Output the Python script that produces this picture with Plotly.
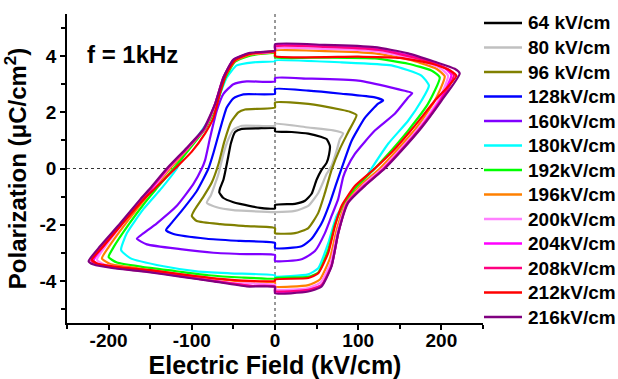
import plotly.graph_objects as go

# ---------------- data ----------------
FIELDS = ["64 kV/cm", "80 kV/cm", "96 kV/cm", "128kV/cm", "160kV/cm", "180kV/cm",
          "192kV/cm", "196kV/cm", "200kV/cm", "204kV/cm", "208kV/cm", "212kV/cm", "216kV/cm"]
COLORS = ["#000000", "#C0C0C0", "#808000", "#0000FF", "#8000FF", "#00FFFF",
          "#00FF00", "#FF8000", "#FF80FF", "#FF00FF", "#FF0080", "#FF0000", "#800080"]

# upper branch: from +Emax tip going to -Emax tip; lower branch: -Emax tip back to +Emax tip
UP_64 = [(66, 0.8), (62, 1.05), (56, 1.12), (40, 1.24), (20, 1.3), (0, 1.33), (0, 1.43), (-20, 1.43),
         (-40, 1.41), (-48, 1.3), (-53, 0.9), (-57, 0.3), (-62, -0.4), (-66, -0.7), (-67, -0.85)]
DN_64 = [(-67, -0.85), (-62, -1.05), (-50, -1.2), (-42, -1.26), (-18, -1.4), (0, -1.42), (0, -1.3),
         (24, -1.26), (36, -1.15), (44, -0.9), (50, -0.4), (56, -0.05), (62, 0.2), (65, 0.5), (66, 0.8)]

UP_80 = [(82, 1.25), (70, 1.36), (40, 1.46), (0, 1.59), (0, 1.52), (-40, 1.52), (-50, 1.38), (-56, 1.05),
         (-62, 0.52), (-68, -0.2), (-72, -0.55), (-77, -0.95), (-82, -1.22)]
DN_80 = [(-82, -1.22), (-70, -1.38), (-50, -1.48), (-34, -1.51), (0, -1.55), (24, -1.51), (40, -1.33),
         (52, -0.87), (62, -0.2), (68, 0.1), (74, 0.63), (78, 1.05), (82, 1.25)]

UP_96 = [(98, 1.9), (90, 2.02), (80, 2.09), (40, 2.3), (0, 2.35), (0, 2.17), (-36, 2.1), (-44, 2.0),
         (-53, 1.65), (-61, 0.95), (-68, 0.15), (-76, -0.5), (-86, -1.0), (-96, -1.44), (-100, -1.69)]
DN_96 = [(-100, -1.69), (-94, -1.87), (-66, -1.98), (-34, -2.05), (0, -2.12), (0, -2.3), (24, -2.3),
         (40, -2.12), (52, -1.58), (60, -0.87), (68, -0.05), (78, 0.7), (88, 1.3), (98, 1.9)]

UP_128 = [(130, 2.42), (120, 2.53), (80, 2.66), (40, 2.77), (0, 2.83), (0, 2.66), (-38, 2.64), (-50, 2.5),
          (-58, 2.17), (-66, 1.4), (-74, 0.55), (-80, 0.0), (-94, -0.8), (-112, -1.5), (-126, -2.0), (-131, -2.2)]
DN_128 = [(-131, -2.2), (-122, -2.33), (-82, -2.5), (-42, -2.58), (0, -2.65), (0, -2.83), (32, -2.77),
          (44, -2.5), (56, -1.95), (66, -1.22), (74, -0.51), (80, 0.0), (92, 0.98), (108, 1.8), (124, 2.31), (130, 2.42)]

UP_160 = [(165, 2.68), (140, 2.88), (100, 3.13), (40, 3.2), (0, 3.22), (0, 3.1), (-34, 3.1), (-50, 3.0),
          (-62, 2.66), (-70, 2.06), (-78, 1.1), (-84, 0.3), (-88, 0.0), (-98, -0.55), (-118, -1.33),
          (-142, -1.95), (-160, -2.35), (-166, -2.5)]
DN_160 = [(-166, -2.5), (-154, -2.7), (-114, -2.87), (-74, -3.0), (-34, -3.05), (0, -3.08), (0, -3.29),
          (32, -3.23), (48, -2.94), (60, -2.3), (68, -1.69), (76, -1.08), (82, -0.3), (86, 0.0), (96, 0.52),
          (120, 1.35), (144, 1.95), (160, 2.53), (165, 2.68)]

UP_180 = [(185, 2.95), (176, 3.31), (140, 3.67), (80, 3.78), (0, 3.85), (0, 3.82), (-26, 3.78), (-46, 3.67),
          (-58, 3.24), (-66, 2.66), (-78, 1.8), (-94, 1.1), (-110, 0.45), (-118, 0.0), (-136, -0.69),
          (-158, -1.44), (-178, -2.3), (-185, -2.9)]
DN_180 = [(-185, -2.9), (-174, -3.19), (-134, -3.48), (-94, -3.66), (-54, -3.73), (0, -3.8), (0, -3.84),
          (40, -3.77), (52, -3.55), (64, -2.66), (74, -1.69), (84, -1.26), (100, -0.73), (116, 0.0),
          (136, 0.88), (160, 1.7), (176, 2.41), (185, 2.95)]

UP_192 = [(198, 3.24), (188, 3.49), (160, 3.73), (120, 3.92), (60, 3.95), (0, 3.96), (0, 4.1), (-30, 4.02),
          (-48, 3.8), (-60, 3.2), (-70, 2.3), (-82, 1.5), (-100, 0.8), (-122, 0.0), (-142, -0.7),
          (-156, -1.2), (-176, -2.0), (-194, -2.8), (-200, -3.15)]
DN_192 = [(-200, -3.15), (-190, -3.35), (-160, -3.5), (-120, -3.65), (-80, -3.8), (-40, -3.88), (0, -3.92),
          (0, -3.9), (40, -3.86), (52, -3.7), (64, -2.9), (72, -2.0), (82, -1.3), (98, -0.65), (120, 0.0),
          (132, 0.38), (160, 1.35), (184, 2.31), (198, 3.24)]

UP_196 = [(204, 3.28), (194, 3.55), (165, 3.85), (120, 4.1), (60, 4.18), (0, 4.2), (0, 4.15), (-30, 4.05),
          (-48, 3.83), (-61, 3.22), (-71, 2.3), (-84, 1.45), (-103, 0.76), (-126, 0.0), (-146, -0.7),
          (-158, -1.15), (-180, -1.98), (-200, -2.8), (-208, -3.2)]
DN_196 = [(-208, -3.2), (-198, -3.4), (-165, -3.55), (-125, -3.72), (-85, -3.88), (-40, -4.02), (0, -4.06),
          (0, -4.2), (40, -4.15), (54, -3.95), (66, -3.2), (74, -2.2), (84, -1.3), (102, -0.63), (126, 0.0),
          (146, 0.63), (170, 1.45), (192, 2.41), (204, 3.28)]

UP_200 = [(208, 3.3), (198, 3.58), (168, 3.9), (120, 4.18), (60, 4.26), (0, 4.28), (0, 4.17), (-30, 4.08),
          (-49, 3.85), (-61, 3.23), (-71, 2.3), (-85, 1.42), (-104, 0.75), (-128, 0.0), (-147, -0.7),
          (-160, -1.12), (-183, -1.96), (-204, -2.78), (-214, -3.25)]
DN_200 = [(-214, -3.25), (-205, -3.42), (-175, -3.56), (-135, -3.72), (-95, -3.9), (-50, -4.08), (0, -4.14),
          (0, -4.3), (40, -4.26), (55, -4.05), (67, -3.35), (75, -2.28), (86, -1.25), (105, -0.62), (129, 0.0),
          (149, 0.63), (173, 1.45), (196, 2.41), (208, 3.3)]

UP_204 = [(212, 3.33), (203, 3.6), (175, 3.92), (125, 4.25), (60, 4.36), (0, 4.38), (0, 4.18), (-30, 4.1),
          (-50, 3.87), (-62, 3.24), (-72, 2.3), (-85, 1.4), (-105, 0.74), (-129, 0.0), (-148, -0.7),
          (-161, -1.1), (-184, -1.95), (-206, -2.76), (-218, -3.28)]
DN_204 = [(-218, -3.28), (-210, -3.42), (-185, -3.55), (-145, -3.68), (-105, -3.86), (-65, -4.04), (-30, -4.18),
          (0, -4.2), (0, -4.38), (40, -4.33), (56, -4.15), (68, -3.45), (76, -2.3), (87, -1.23), (107, -0.62),
          (131, 0.0), (151, 0.63), (175, 1.45), (198, 2.41), (212, 3.33)]

UP_208 = [(215, 3.32), (207, 3.55), (180, 3.85), (125, 4.22), (60, 4.33), (0, 4.34), (0, 4.18), (-30, 4.1),
          (-50, 3.86), (-62, 3.24), (-72, 2.3), (-85, 1.4), (-105, 0.74), (-129, 0.0), (-149, -0.7),
          (-161, -1.1), (-185, -1.95), (-208, -2.76), (-221, -3.28)]
DN_208 = [(-221, -3.28), (-213, -3.42), (-190, -3.55), (-150, -3.68), (-110, -3.85), (-70, -4.02), (-30, -4.18),
          (0, -4.2), (0, -4.36), (40, -4.32), (56, -4.15), (68, -3.45), (76, -2.3), (87, -1.22), (107, -0.62),
          (131, 0.0), (151, 0.63), (175, 1.45), (199, 2.41), (215, 3.32)]

UP_212 = [(218, 3.3), (210, 3.5), (190, 3.72), (150, 3.94), (100, 3.98), (0, 4.0), (0, 4.15), (-30, 4.08),
          (-48, 3.85), (-58, 3.4), (-66, 2.7), (-74, 1.8), (-84, 1.25), (-100, 0.6), (-120, 0.0), (-144, -0.7),
          (-158, -1.1), (-183, -1.95), (-206, -2.76), (-220, -3.25)]
DN_212 = [(-220, -3.25), (-214, -3.38), (-190, -3.5), (-150, -3.62), (-110, -3.78), (-70, -3.92), (-30, -4.0),
          (0, -4.0), (0, -3.95), (40, -3.9), (52, -3.73), (64, -3.0), (72, -2.05), (80, -1.33), (96, -0.62),
          (120, 0.0), (142, 0.63), (166, 1.45), (192, 2.41), (218, 3.3)]

UP_216 = [(222, 3.38), (216, 3.55), (192, 3.8), (160, 4.1), (120, 4.32), (60, 4.4), (0, 4.42), (0, 4.2),
          (-30, 4.12), (-50, 3.88), (-62, 3.24), (-72, 2.3), (-86, 1.4), (-106, 0.74), (-130, 0.0),
          (-150, -0.7), (-162, -1.1), (-186, -1.95), (-210, -2.76), (-224, -3.3)]
DN_216 = [(-224, -3.3), (-218, -3.42), (-194, -3.55), (-154, -3.68), (-114, -3.85), (-74, -4.02), (-34, -4.2),
          (0, -4.22), (0, -4.44), (40, -4.38), (56, -4.2), (68, -3.48), (76, -2.3), (88, -1.22), (108, -0.62),
          (132, 0.0), (152, 0.63), (176, 1.45), (200, 2.41), (222, 3.38)]

LOOPS = [(UP_64, DN_64), (UP_80, DN_80), (UP_96, DN_96), (UP_128, DN_128), (UP_160, DN_160),
         (UP_180, DN_180), (UP_192, DN_192), (UP_196, DN_196), (UP_200, DN_200), (UP_204, DN_204),
         (UP_208, DN_208), (UP_212, DN_212), (UP_216, DN_216)]

X_TICKS = [-200, -100, 0, 100, 200]
X_TICKTEXT = ["-200", "-100", "0", "100", "200"]
Y_TICKS = [-4, -2, 0, 2, 4]
Y_TICKTEXT = ["-4", "-2", "0", "2", "4"]
X_RANGE = [-250, 250]
Y_RANGE = [-5.5, 5.5]

# ---------------- figure ----------------
W, H = 618, 379
ML, MR, MT, MB = 67, 135, 14, 56
PW, PH = W - ML - MR, H - MT - MB
FONT = "Liberation Sans, Arial, sans-serif"

fig = go.Figure()
for name, color, (up, dn) in zip(FIELDS, COLORS, LOOPS):
    pts = up + dn[1:]
    fig.add_trace(go.Scatter(
        x=[p[0] for p in pts], y=[p[1] for p in pts], mode="lines", name=name,
        line=dict(color=color, width=2.2, shape="spline", smoothing=0.5),
        showlegend=False, hoverinfo="skip"))

# zero reference lines
fig.add_shape(type="line", xref="x", yref="paper", x0=0, x1=0, y0=0, y1=1,
              line=dict(color="#333333", width=1, dash="3px,3px"), layer="below")
fig.add_shape(type="line", xref="paper", yref="y", x0=0, x1=1, y0=0, y1=0,
              line=dict(color="#333333", width=1, dash="3px,3px"), layer="below")

# legend drawn beside the plot
LEG_Y0, LEG_DY = 23, 24.5
for i, (name, color) in enumerate(zip(FIELDS, COLORS)):
    py = LEG_Y0 + LEG_DY * i
    yp = (H - MB - py) / PH
    fig.add_shape(type="line", xref="paper", yref="paper",
                  x0=(484 - ML) / PW, x1=(522 - ML) / PW, y0=yp, y1=yp,
                  line=dict(color=color, width=2.5))
    fig.add_annotation(xref="paper", yref="paper", x=(526 - ML) / PW, y=yp, text=name,
                       showarrow=False, xanchor="left", yanchor="middle",
                       font=dict(family=FONT, size=19, color="black", weight="bold"))

fig.add_annotation(xref="paper", yref="paper", x=(85 - ML) / PW, y=(H - MB - 55) / PH,
                   text="f = 1kHz", showarrow=False, xanchor="left", yanchor="middle",
                   font=dict(family=FONT, size=24, color="black", weight="bold"))

axis_common = dict(showline=True, linecolor="black", linewidth=1.5, showgrid=False, zeroline=False,
                   automargin=False)
fig.update_layout(
    width=W, height=H, margin=dict(l=ML, r=MR, t=MT, b=MB),
    paper_bgcolor="white", plot_bgcolor="white", showlegend=False,
    font=dict(family=FONT, color="black"),
    xaxis=dict(range=X_RANGE, tickvals=X_TICKS, ticktext=X_TICKTEXT, ticks="outside", ticklen=5,
               tickwidth=1.5, tickcolor="black", ticklabelstandoff=-6,
               minor=dict(ticks="outside", ticklen=4, tickwidth=1.5, dtick=50, tick0=0, tickcolor="black"),
               tickfont=dict(family=FONT, size=19, weight="bold"),
               title=dict(text="Electric Field (kV/cm)", standoff=14,
                          font=dict(family=FONT, size=25, weight="bold")),
               **axis_common),
    yaxis=dict(range=Y_RANGE, tickvals=Y_TICKS, ticktext=Y_TICKTEXT, ticks="outside", ticklen=5,
               tickwidth=1.5, tickcolor="black",
               minor=dict(ticks="outside", ticklen=4, tickwidth=1.5, dtick=1, tick0=0, tickcolor="black"),
               tickfont=dict(family=FONT, size=19, weight="bold"),
               title=dict(text="\u00a0\u00a0\u00a0Polarization (μC/cm<sup>2</sup>)", standoff=6,
                          font=dict(family=FONT, size=24, weight="bold")),
               **axis_common),
    xaxis2=dict(range=X_RANGE, overlaying="x", side="top", anchor="y", tickvals=X_TICKS,
                showticklabels=False, ticks="inside", ticklen=5, tickwidth=1.5, tickcolor="black",
                minor=dict(ticks="inside", ticklen=4, tickwidth=1.5, dtick=50, tick0=0, tickcolor="black"),
                **axis_common),
    yaxis2=dict(range=Y_RANGE, overlaying="y", side="right", anchor="x", tickvals=Y_TICKS,
                showticklabels=False, ticks="inside", ticklen=5, tickwidth=1.5, tickcolor="black",
                minor=dict(ticks="inside", ticklen=4, tickwidth=1.5, dtick=1, tick0=0, tickcolor="black"),
                **axis_common),
)

fig.write_html("out.html", config={"displayModeBar": False},
               post_script="document.body.style.margin='0';")
